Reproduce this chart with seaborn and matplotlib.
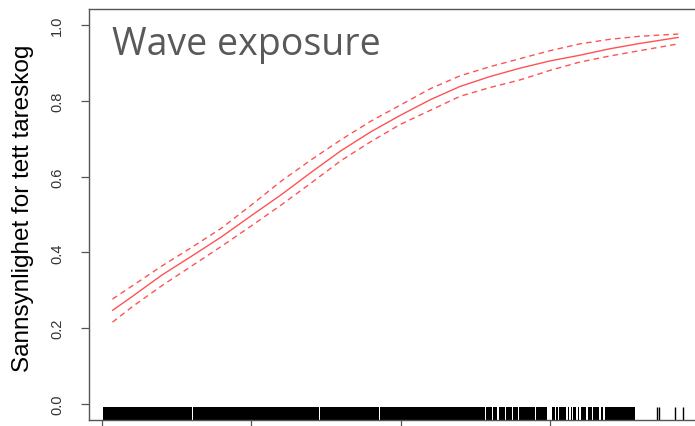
import numpy as np
import pandas as pd
import matplotlib
matplotlib.use("Agg")
import matplotlib.pyplot as plt
import seaborn as sns

# ---- data ----
x_fit = [0.07, 0.2, 0.4, 0.6, 0.8, 1.0, 1.2, 1.4, 1.6, 1.8, 2.0, 2.2, 2.4, 2.6, 2.8, 3.0, 3.2, 3.4, 3.6, 3.86]
p_fit = [0.247, 0.283, 0.340, 0.390, 0.441, 0.497, 0.552, 0.611, 0.668, 0.718, 0.762, 0.803, 0.838, 0.864, 0.886, 0.905, 0.920, 0.937, 0.951, 0.967]
p_upper = [0.277, 0.311, 0.364, 0.413, 0.464, 0.525, 0.588, 0.644, 0.697, 0.746, 0.789, 0.832, 0.866, 0.890, 0.911, 0.932, 0.950, 0.962, 0.970, 0.976]
p_lower = [0.216, 0.256, 0.312, 0.364, 0.416, 0.470, 0.525, 0.583, 0.642, 0.692, 0.738, 0.775, 0.812, 0.835, 0.855, 0.880, 0.902, 0.918, 0.932, 0.950]

# rug: dense blocks of observations (start, end) and isolated observations
rug_start = [0.009, 0.612, 1.457, 1.859, 2.569, 2.616, 2.656, 2.703, 2.750, 2.790,
             2.823, 2.863, 2.904, 2.950, 3.014, 3.038, 3.058, 3.084, 3.118, 3.138,
             3.158, 3.185, 3.205, 3.252, 3.292, 3.339, 3.366, 3.419, 3.459]
rug_end = [0.605, 1.451, 1.853, 2.562, 2.609, 2.649, 2.696, 2.743, 2.783, 2.817,
           2.857, 2.897, 2.944, 2.981, 3.031, 3.051, 3.078, 3.111, 3.131, 3.151,
           3.178, 3.198, 3.245, 3.285, 3.332, 3.359, 3.413, 3.453, 3.570]
rug_single = [3.714, 3.731, 3.835, 3.892]

x_ticks = [0, 1, 2, 3]
y_ticks = [0.0, 0.2, 0.4, 0.6, 0.8, 1.0]
y_ticklabels = ["0.0", "0.2", "0.4", "0.6", "0.8", "1.0"]

title = "Wave exposure"
ylabel = "Sannsynlighet for tett tareskog"

# ---- styling ----
sns.set_theme(style="white")
plt.rcParams['font.family'] = ['Liberation Sans', 'DejaVu Sans']

W, H = 695, 427
fig = plt.figure(figsize=(W / 100, H / 100), dpi=100)
left_px, right_px, top_px, bottom_px = 89, 712, 10, 421
ax = fig.add_axes([left_px / W, 1 - bottom_px / H,
                   (right_px - left_px) / W, (bottom_px - top_px) / H])

line_col = "#ff5252"
df = pd.DataFrame({"x": x_fit, "fit": p_fit, "up": p_upper, "lo": p_lower})
sns.lineplot(data=df, x="x", y="fit", ax=ax, color=line_col, linewidth=1.0)
sns.lineplot(data=df, x="x", y="up", ax=ax, color=line_col, linewidth=1.0,
             linestyle=(0, (4, 3)))
sns.lineplot(data=df, x="x", y="lo", ax=ax, color=line_col, linewidth=1.0,
             linestyle=(0, (4, 3)))

# rug
ymin, ymax = -0.042, 1.042
rug_h = 0.034
ax.broken_barh([(s, e - s) for s, e in zip(rug_start, rug_end)],
               (ymin, rug_h), facecolors="black", edgecolor="none")
sns.rugplot(x=rug_single, ax=ax, height=0.032, color="black", linewidth=1.0)

# title inside the plot
ax.text((112 - left_px) / (right_px - left_px), (bottom_px - 55) / (bottom_px - top_px),
        title, transform=ax.transAxes, ha="left", va="baseline",
        fontsize=27, color="#595959", family=["Open Sans", "DejaVu Sans"])

# axes
x_left = (left_px - 102) / 149.3
x_right = (right_px - 102) / 149.3
ax.set_xlim(x_left, x_right)
ax.set_ylim(ymin, ymax)
ax.set_xticks(x_ticks)
ax.set_xticklabels([])
ax.set_yticks(y_ticks)
ax.set_yticklabels(y_ticklabels, rotation=90, va="center", ha="right")
ax.tick_params(axis="y", direction="out", length=6, width=0.9, color="#555555",
               labelsize=10.5, labelcolor="#333333", pad=12, left=True)
ax.tick_params(axis="x", direction="out", length=6, width=0.9, color="#555555",
               bottom=True)
ax.set_xlabel("")
ax.set_ylabel(ylabel, fontsize=17.5, color="black")
ax.yaxis.set_label_coords(-0.088, 0.517)
for sp in ax.spines.values():
    sp.set_visible(True)
    sp.set_color("#555555")
    sp.set_linewidth(1.0)
ax.grid(False)
ax.set_facecolor("white")
fig.patch.set_facecolor("white")

fig.savefig("out.png", dpi=100)
